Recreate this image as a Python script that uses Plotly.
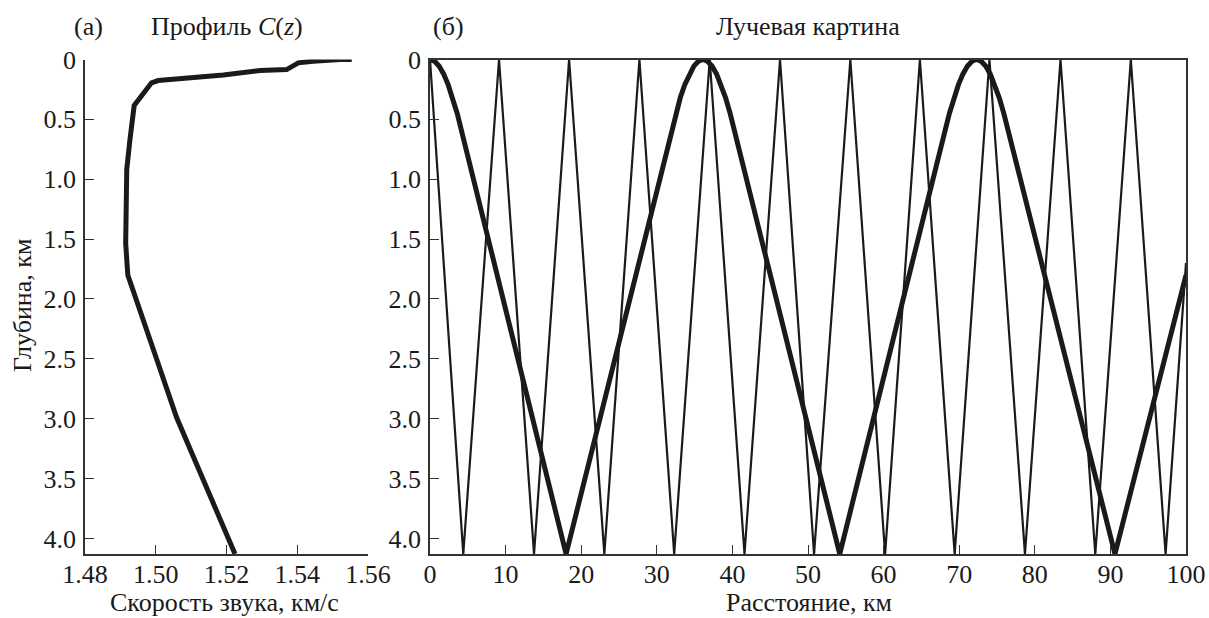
import plotly.graph_objects as go

# ---- Panel (a): sound-speed profile C(z) ----
profile_c = [1.5554, 1.5521, 1.5445, 1.5403, 1.5370, 1.5295, 1.5191, 1.5097, 1.5007,
             1.4988, 1.4970, 1.4939, 1.4927, 1.4918, 1.4915, 1.4921, 1.5000, 1.5059, 1.5224]
profile_z = [0.0, 0.0, 0.014, 0.028, 0.084, 0.092, 0.13, 0.157, 0.176,
             0.195, 0.265, 0.385, 0.67, 0.92, 1.535, 1.80, 2.48, 2.99, 4.13]

# ---- Panel (б): ray picture ----
# thick (low-angle) ray
ray1_x = [0.0, 0.6, 1.2, 1.8, 2.4, 3.0, 3.6, 18.0,
          32.5, 33.1, 33.7, 34.3, 34.9, 35.5, 36.1, 36.7, 37.3, 37.9, 38.5, 39.1, 39.7, 54.2,
          68.7, 69.3, 69.9, 70.5, 71.1, 71.7, 72.3, 72.9, 73.5, 74.1, 74.7, 75.3, 75.9, 90.6,
          100.0]
ray1_z = [0.0, 0.014, 0.055, 0.12, 0.21, 0.32, 0.45, 4.13,
          0.45, 0.32, 0.21, 0.12, 0.055, 0.014, 0.0, 0.014, 0.055, 0.12, 0.21, 0.32, 0.45, 4.13,
          0.45, 0.32, 0.21, 0.12, 0.055, 0.014, 0.0, 0.014, 0.055, 0.12, 0.21, 0.32, 0.45, 4.13,
          1.80]

# thin (steep) ray: alternating surface / bottom turning points
ray2_x = [0.0, 4.4, 9.13, 13.76, 18.4, 23.06, 27.7, 32.3, 37.0, 41.6, 46.3, 50.8,
          55.6, 60.2, 64.8, 69.4, 74.0, 78.7, 83.4, 88.0, 92.7, 97.3, 100.0]
ray2_z = [0.0, 4.13, 0.0, 4.13, 0.0, 4.13, 0.0, 4.13, 0.0, 4.13, 0.0, 4.13,
          0.0, 4.13, 0.0, 4.13, 0.0, 4.13, 0.0, 4.13, 0.0, 4.13, 1.70]

depth_ticks = [0, 0.5, 1.0, 1.5, 2.0, 2.5, 3.0, 3.5, 4.0]
depth_labels = ["0", "0.5", "1.0", "1.5", "2.0", "2.5", "3.0", "3.5", "4.0"]
speed_ticks = [1.48, 1.50, 1.52, 1.54, 1.56]
speed_labels = ["1.48", "1.50", "1.52", "1.54", "1.56"]
range_ticks = [0, 10, 20, 30, 40, 50, 60, 70, 80, 90, 100]
range_labels = [str(v) for v in range_ticks]

W, H = 1209, 618
FONT = "Liberation Serif, Times New Roman, serif"
INK = "#1a1a1a"
AX = "#333333"
FS = 26


def px_x(p):
    return p / W


def px_y(p):
    return 1 - p / H


fig = go.Figure()
fig.add_trace(go.Scatter(x=profile_c, y=profile_z, mode="lines",
                         line=dict(color=INK, width=5), xaxis="x", yaxis="y",
                         showlegend=False))
fig.add_trace(go.Scatter(x=ray2_x, y=ray2_z, mode="lines",
                         line=dict(color=INK, width=2.2), xaxis="x2", yaxis="y2",
                         showlegend=False))
fig.add_trace(go.Scatter(x=ray1_x, y=ray1_z, mode="lines",
                         line=dict(color=INK, width=5), xaxis="x2", yaxis="y2",
                         showlegend=False))

ydom = [px_y(554), px_y(59.5)]
common = dict(showgrid=False, zeroline=False, showline=True, linecolor=AX, linewidth=1.5,
              ticks="inside", ticklen=9, tickwidth=1.2, tickcolor=AX, automargin=False,
              ticklabeloverflow="allow",
              tickfont=dict(family=FONT, size=FS, color=INK))

fig.update_layout(
    width=W, height=H,
    margin=dict(l=0, r=0, t=0, b=0, autoexpand=False),
    paper_bgcolor="white", plot_bgcolor="white",
    xaxis=dict(domain=[px_x(85), px_x(368)], range=[1.48, 1.56], anchor="y",
               tickvals=speed_ticks, ticktext=speed_labels, ticklabelstandoff=-4, **common),
    yaxis=dict(domain=ydom, range=[4.13, 0], anchor="x",
               tickvals=depth_ticks, ticktext=depth_labels, ticklabelstandoff=2, **common),
    xaxis2=dict(domain=[px_x(430), px_x(1186)], range=[0, 100], anchor="y2", mirror=True,
                tickvals=range_ticks, ticktext=range_labels, ticklabelstandoff=-4, **common),
    yaxis2=dict(domain=ydom, range=[4.13, 0], anchor="x2", mirror=True,
                tickvals=depth_ticks, ticktext=depth_labels, ticklabelstandoff=2, **common),
)


def ann(text, x, y, size=FS, angle=0, xanchor="center"):
    fig.add_annotation(text=text, x=px_x(x), y=px_y(y), xref="paper", yref="paper",
                       showarrow=False, textangle=angle, xanchor=xanchor, yanchor="middle",
                       font=dict(family=FONT, size=size, color=INK))


ann("(а)", 88, 27)
ann("Профиль <i>C</i>(<i>z</i>)", 226.5, 27)
ann("(б)", 448, 27)
ann("Лучевая картина", 808, 27)
ann("Скорость звука, км/с", 224, 602)
ann("Расстояние, км", 809, 602)
ann("Глубина, км", 22, 306, angle=-90)

fig.write_html("out.html", config={"displayModeBar": False},
               post_script="document.body.style.margin='0';document.body.style.overflow='hidden';")
